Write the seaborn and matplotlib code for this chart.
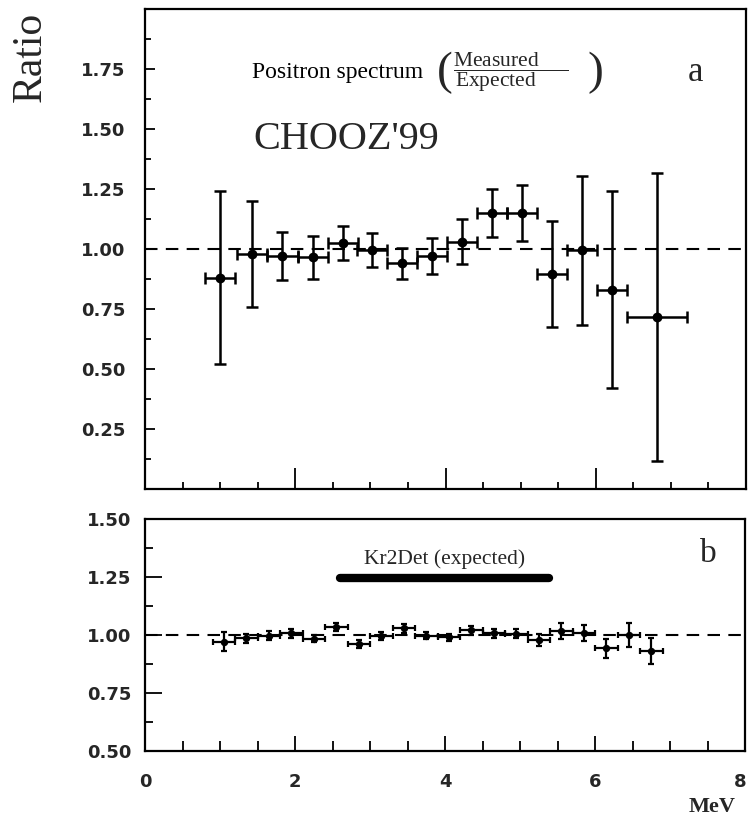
import numpy as np
import pandas as pd
import matplotlib
matplotlib.use("Agg")
import matplotlib.pyplot as plt
import matplotlib.transforms as mtransforms
import seaborn as sns
from matplotlib.ticker import MultipleLocator, FixedLocator, FormatStrFormatter

# ---------------- data ----------------
# Panel a : positron spectrum, measured / expected (CHOOZ'99)
a_energy = [1.00, 1.42, 1.83, 2.23, 2.63, 3.02, 3.42, 3.82, 4.22, 4.62, 5.02, 5.42, 5.82, 6.22, 6.82]
a_halfbin = [0.2, 0.2, 0.2, 0.2, 0.2, 0.2, 0.2, 0.2, 0.2, 0.2, 0.2, 0.2, 0.2, 0.2, 0.4]
a_ratio = [0.88, 0.98, 0.97, 0.965, 1.025, 0.995, 0.94, 0.97, 1.03, 1.15, 1.15, 0.895, 0.995, 0.83, 0.715]
a_err = [0.36, 0.22, 0.10, 0.09, 0.07, 0.072, 0.063, 0.076, 0.094, 0.10, 0.116, 0.222, 0.31, 0.41, 0.60]

# Panel b : Kr2Det (expected)
b_energy = [1.05, 1.35, 1.65, 1.95, 2.25, 2.55, 2.85, 3.15, 3.45, 3.75,
            4.05, 4.35, 4.65, 4.95, 5.25, 5.55, 5.85, 6.15, 6.45, 6.75]
b_halfbin = [0.15] * 20
b_ratio = [0.971, 0.986, 0.997, 1.007, 0.983, 1.036, 0.960, 0.997, 1.029, 0.997,
           0.990, 1.020, 1.007, 1.005, 0.978, 1.017, 1.010, 0.943, 1.000, 0.932]
b_err = [0.04, 0.02, 0.02, 0.02, 0.015, 0.017, 0.018, 0.018, 0.02, 0.015,
         0.015, 0.02, 0.02, 0.02, 0.027, 0.035, 0.035, 0.04, 0.052, 0.055]

b_legend_line = [2.60, 5.38]   # thick sample line under "Kr2Det (expected)"
b_legend_level = 1.246

x_ticks = [0, 2, 4, 6, 8]
a_yticks = [0.25, 0.50, 0.75, 1.00, 1.25, 1.50, 1.75]
b_yticks = [0.50, 0.75, 1.00, 1.25, 1.50]

df_a = pd.DataFrame({"E": a_energy, "R": a_ratio, "dE": a_halfbin, "dR": a_err})
df_b = pd.DataFrame({"E": b_energy, "R": b_ratio, "dE": b_halfbin, "dR": b_err})

# ---------------- style ----------------
sns.set_theme(style="ticks")
plt.rcParams["font.family"] = ["DejaVu Sans"]
plt.rcParams["mathtext.fontset"] = "custom"
plt.rcParams["mathtext.rm"] = "Liberation Serif"
plt.rcParams["mathtext.it"] = "Liberation Serif:italic"
plt.rcParams["mathtext.bf"] = "Liberation Serif:bold"

SERIF = ["Liberation Serif", "DejaVu Serif"]

fig = plt.figure(figsize=(7.48, 8.22), dpi=100)
ax_a = fig.add_axes([145 / 748, 1 - 489 / 822, 601 / 748, 480 / 822])
ax_b = fig.add_axes([145 / 748, 1 - 751 / 822, 600 / 748, 232 / 822])


def style_axes(ax, xmaj_len, xmin_len, ymaj_len, ymin_len, ypad):
    for sp in ax.spines.values():
        sp.set_visible(True)
        sp.set_linewidth(1.6)
        sp.set_color("black")
    ax.set_facecolor("white")
    ax.tick_params(axis="both", which="both", direction="in", top=False, right=False,
                   color="black", width=1.3)
    ax.tick_params(axis="x", which="major", length=xmaj_len)
    ax.tick_params(axis="x", which="minor", length=xmin_len)
    ax.tick_params(axis="y", which="major", length=ymaj_len, pad=ypad,
                   labelsize=13)
    ax.tick_params(axis="y", which="minor", length=ymin_len)
    for lab in ax.get_yticklabels():
        lab.set_fontweight("bold")
    ax.set_xlabel("")
    ax.set_ylabel("")


# ---------------- panel a ----------------
ax_a.axhline(1.0, color="black", lw=1.5, ls=(0, (6, 4)), zorder=1)
ax_a.errorbar(df_a["E"], df_a["R"], xerr=df_a["dE"], yerr=df_a["dR"], fmt="none",
              ecolor="black", elinewidth=1.8, capsize=4, capthick=1.8, zorder=2)
sns.scatterplot(data=df_a, x="E", y="R", ax=ax_a, color="black", s=50,
                edgecolor="black", linewidth=0, zorder=3, legend=False)
ax_a.set_xlim(0, 8)
ax_a.set_ylim(0, 2)
ax_a.xaxis.set_major_locator(FixedLocator([2, 4, 6]))
ax_a.xaxis.set_minor_locator(MultipleLocator(0.5))
ax_a.set_xticklabels([])
ax_a.yaxis.set_major_locator(FixedLocator(a_yticks))
ax_a.yaxis.set_major_formatter(FormatStrFormatter("%.2f"))
ax_a.yaxis.set_minor_locator(MultipleLocator(0.125))
style_axes(ax_a, 15, 5, 7, 4, 14)

ax_a.text(1.42, 1.736, "Positron spectrum", family=SERIF, fontsize=17,
          ha="left", va="center", color="black")
ax_a.text(3.99, 1.735, "(", family=SERIF, fontsize=34, ha="center", va="center")
ax_a.text(5.99, 1.735, ")", family=SERIF, fontsize=34, ha="center", va="center")
ax_a.text(4.10, 1.736,
          r"$\dfrac{\mathrm{Measured}\quad\;\;\;}{\mathrm{Expected}\quad\;\;\;}$",
          fontsize=15.5, ha="left", va="center")
ax_a.text(1.44, 1.458, "CHOOZ'99", family=SERIF, fontsize=29, ha="left", va="center")
ax_a.text(7.33, 1.735, "a", family=SERIF, fontsize=25, ha="center", va="center")

# ---------------- panel b ----------------
ax_b.axhline(1.0, color="black", lw=1.5, ls=(0, (6, 4)), zorder=1)
ax_b.errorbar(df_b["E"], df_b["R"], xerr=df_b["dE"], yerr=df_b["dR"], fmt="none",
              ecolor="black", elinewidth=1.6, capsize=2.3, capthick=1.6, zorder=2)
sns.scatterplot(data=df_b, x="E", y="R", ax=ax_b, color="black", s=28,
                edgecolor="black", linewidth=0, zorder=3, legend=False)
sns.lineplot(x=b_legend_line, y=[b_legend_level] * len(b_legend_line), ax=ax_b,
             color="black", lw=6, legend=False)
ax_b.set_xlim(0, 8)
ax_b.set_ylim(0.5, 1.5)
ax_b.xaxis.set_major_locator(FixedLocator(x_ticks))
ax_b.xaxis.set_minor_locator(MultipleLocator(0.5))
ax_b.set_xticklabels([str(t) for t in x_ticks])
ax_b.yaxis.set_major_locator(FixedLocator(b_yticks))
ax_b.yaxis.set_major_formatter(FormatStrFormatter("%.2f"))
ax_b.yaxis.set_minor_locator(MultipleLocator(0.125))
style_axes(ax_b, 11, 7, 12, 6, 10)
ax_b.tick_params(axis="x", which="major", pad=16, labelsize=13)
xlabs = ax_b.get_xticklabels()
for lab in xlabs:
    lab.set_fontweight("bold")
# keep the last label ("8") inside the canvas, as in the reference
shift = mtransforms.ScaledTranslation(-5 / 100, 0, fig.dpi_scale_trans)
xlabs[-1].set_transform(xlabs[-1].get_transform() + shift)

ax_b.text(4.0, 1.327, "Kr2Det (expected)", family=SERIF, fontsize=15.5,
          ha="center", va="center")
ax_b.text(7.51, 1.35, "b", family=SERIF, fontsize=24, ha="center", va="center")

# ---------------- figure labels ----------------
fig.text(30 / 748, 1 - 57 / 822, "Ratio", family=SERIF, fontsize=30, rotation=90,
         ha="center", va="center")
fig.text(712 / 748, 1 - 807 / 822, "MeV", family=SERIF, fontsize=16,
         fontweight="bold", ha="center", va="center")

fig.savefig("out.png", dpi=100, facecolor="white")
